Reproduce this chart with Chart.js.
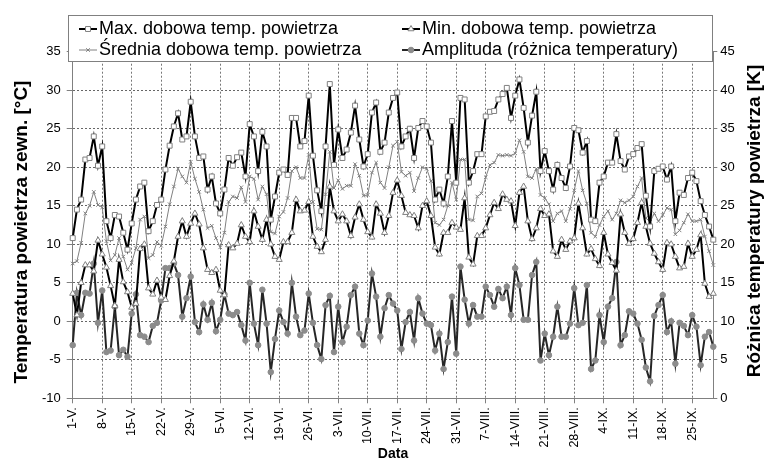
<!DOCTYPE html>
<html lang="pl">
<head>
<meta charset="UTF-8">
<title>Temperatura powietrza</title>
<script src="https://cdn.jsdelivr.net/npm/chart.js"></script>
<style>
  html, body { margin: 0; padding: 0; background: #fff; }
  #wrap { width: 766px; height: 461px; }
</style>
</head>
<body>
<div id="wrap"><canvas id="chart" width="766" height="461"></canvas></div>
<script>
// categories: every day from 1 May to 30 Sep
const monthNames = ['V', 'VI', 'VII', 'VIII', 'IX'];
const monthDays = [31, 30, 31, 31, 30];
const categories = [];
monthNames.forEach((m, i) => {
    for (let d = 1; d <= monthDays[i]; d++) categories.push(d + '-' + m + '.');
});

const tickLabels = ['1-V.', '8-V.', '15-V.', '22-V.', '29-V.', '5-VI.', '12-VI.', '19-VI.', '26-VI.',
    '3-VII.', '10-VII.', '17-VII.', '24-VII.', '31-VII.', '7-VIII.', '14-VIII.', '21-VIII.', '28-VIII.',
    '4-IX.', '11-IX.', '18-IX.', '25-IX.'];

const maxTemp = [
    10.8, 14.5, 15.8, 21.0, 21.2, 24.0, 20.2, 22.7, 13.0, 10.8,
    13.8, 13.6, 11.5, 9.3, 12.7, 15.8, 17.5, 18.0, 11.7, 13.0,
    15.1, 15.8, 19.7, 22.8, 25.3, 27.0, 23.6, 24.0, 28.5, 24.0,
    21.2, 21.4, 17.1, 18.8, 15.3, 14.0, 17.1, 21.2, 20.2, 21.3,
    21.9, 18.8, 25.6, 24.0, 19.5, 24.6, 22.7, 13.2, 16.2, 19.3,
    19.7, 19.0, 26.4, 26.4, 22.7, 23.4, 29.3, 21.5, 17.0, 14.3,
    22.7, 30.8, 20.3, 24.9, 21.2, 22.3, 24.5, 28.0, 23.6, 20.1,
    21.7, 27.1, 28.4, 22.0, 23.2, 27.1, 29.0, 29.7, 22.7, 24.0,
    25.0, 21.2, 25.1, 26.0, 25.3, 23.2, 15.8, 17.1, 15.3, 18.8,
    26.0, 18.0, 29.0, 28.8, 18.0, 19.5, 21.7, 21.7, 26.6, 27.2,
    27.3, 28.8, 29.5, 30.3, 26.4, 29.3, 31.4, 27.7, 23.2, 26.7,
    29.8, 19.5, 22.1, 19.5, 17.1, 20.3, 18.6, 17.3, 20.1, 25.1,
    24.8, 21.9, 23.4, 13.2, 13.0, 18.0, 18.8, 20.6, 20.6, 24.3,
    20.8, 19.7, 21.4, 21.7, 22.5, 23.0, 16.3, 12.3, 19.5, 19.8,
    20.1, 18.4, 20.1, 13.0, 16.7, 16.4, 18.6, 19.3, 18.2, 15.6,
    13.8, 12.3, 10.6
];

const minTemp = [
    3.6, 0.8, 5.0, 7.3, 7.3, 6.5, 10.5, 8.7, 7.0, 4.6,
    2.0, 8.0, 5.1, 3.8, 1.8, 2.3, 9.4, 10.0, 4.3, 3.5,
    5.3, 3.1, 2.8, 5.9, 7.8, 11.0, 13.0, 11.0, 12.7, 14.0,
    12.6, 9.5, 6.7, 6.3, 6.7, 4.0, 3.4, 9.9, 9.5, 10.1,
    12.5, 11.0, 10.3, 14.3, 12.3, 10.6, 13.2, 10.0, 8.4, 8.0,
    10.3, 10.3, 11.5, 15.8, 14.3, 14.4, 15.5, 11.0, 9.7, 9.0,
    10.6, 17.5, 14.3, 13.0, 13.9, 13.0, 11.1, 13.5, 15.2, 13.2,
    11.6, 10.9, 15.2, 14.0, 11.5, 13.7, 16.7, 18.3, 16.3, 14.1,
    13.8, 13.7, 12.1, 15.0, 15.6, 13.7, 9.6, 8.7, 11.5, 11.5,
    12.8, 12.2, 11.9, 16.0, 8.3, 7.4, 11.1, 11.1, 12.1, 13.8,
    15.4, 14.6, 16.5, 15.8, 15.6, 12.4, 16.7, 17.5, 13.0, 10.7,
    12.1, 14.6, 13.7, 13.9, 9.1, 8.4, 10.6, 9.3, 10.4, 10.8,
    15.3, 12.1, 8.7, 9.4, 8.1, 7.2, 11.5, 8.7, 7.6, 6.6,
    13.9, 11.5, 10.1, 10.7, 12.8, 15.4, 12.3, 10.1, 8.8, 7.7,
    6.7, 10.2, 10.0, 8.4, 6.9, 7.1, 10.1, 8.4, 9.3, 11.2,
    4.9, 3.2, 3.6
];

const meanTemp = [
    7.5, 7.8, 10.2, 14.0, 15.0, 16.8, 15.1, 14.8, 10.4, 7.9,
    8.6, 10.8, 8.4, 6.7, 7.6, 9.5, 13.2, 13.6, 8.2, 8.6,
    10.3, 9.8, 12.3, 15.2, 17.5, 19.8, 18.8, 18.0, 20.7, 18.5,
    16.8, 14.5, 12.1, 12.4, 10.8, 9.6, 11.5, 15.5, 16.2, 16.0,
    17.4, 15.5, 18.8, 18.5, 15.8, 17.5, 16.5, 11.6, 11.4, 13.6,
    14.2, 16.0, 19.5, 20.0, 18.6, 18.6, 21.6, 15.5, 12.0, 11.9,
    16.5, 22.0, 17.3, 18.3, 17.2, 17.6, 17.6, 20.4, 18.9, 16.3,
    16.4, 19.3, 20.6, 18.0, 17.3, 20.0, 22.8, 23.3, 19.4, 18.9,
    19.3, 16.9, 18.6, 20.0, 19.8, 18.2, 12.8, 12.5, 13.2, 15.0,
    18.0, 15.8, 21.0, 21.0, 13.2, 13.1, 16.2, 16.6, 18.7, 20.3,
    20.6, 21.6, 21.5, 21.6, 21.5, 21.8, 23.5, 22.0, 18.8, 18.6,
    19.8, 16.4, 16.0, 15.2, 13.0, 14.0, 14.3, 13.0, 14.6, 17.0,
    19.5, 17.0, 15.3, 11.5, 11.0, 12.5, 13.6, 14.3, 13.2, 14.0,
    15.7, 15.4, 15.7, 16.2, 17.5, 18.6, 13.4, 12.9, 14.0, 13.0,
    13.8, 14.7, 14.5, 11.3, 11.8, 12.8, 13.9, 13.0, 13.0, 13.2,
    11.0, 9.1, 7.3
];

// amplitude in K, right axis
const amplitude = [
    6.9, 13.7, 10.8, 13.7, 13.6, 17.5, 9.8, 14.0, 6.0, 6.2,
    11.9, 5.6, 6.3, 5.4, 11.0, 13.5, 8.2, 8.0, 7.3, 9.4,
    9.8, 12.7, 16.9, 16.9, 17.5, 16.0, 10.6, 13.0, 15.8, 9.9,
    8.6, 12.2, 10.2, 12.4, 8.7, 10.2, 13.5, 11.0, 10.8, 11.2,
    9.5, 7.5, 15.0, 9.7, 6.9, 14.1, 9.7, 3.4, 7.7, 11.4,
    9.9, 8.4, 15.0, 10.6, 8.2, 8.8, 13.6, 9.8, 6.9, 5.1,
    12.1, 13.3, 6.0, 11.9, 7.3, 9.3, 13.4, 14.5, 8.4, 6.9,
    10.1, 16.2, 13.2, 8.0, 11.7, 13.4, 12.3, 11.4, 6.4, 9.9,
    11.2, 7.5, 13.0, 11.0, 9.7, 9.5, 6.2, 8.4, 3.8, 7.3,
    13.2, 5.8, 17.1, 12.8, 9.7, 12.1, 10.6, 10.6, 14.5, 13.4,
    11.9, 14.2, 13.0, 14.5, 10.8, 16.9, 14.7, 10.2, 10.2, 16.0,
    17.7, 4.9, 8.4, 5.6, 8.0, 11.9, 8.0, 8.0, 9.7, 14.3,
    9.5, 9.8, 14.7, 3.8, 4.9, 10.8, 7.3, 11.9, 13.0, 17.7,
    6.9, 8.2, 11.3, 11.0, 9.7, 7.6, 4.0, 2.2, 10.7, 12.1,
    13.4, 8.6, 10.0, 4.5, 9.8, 9.4, 8.2, 10.8, 9.3, 4.3,
    8.0, 8.6, 6.7
];

const FONT = '"Liberation Sans", Arial, sans-serif';

// legend box, axis titles
const frame = {
    id: 'frame',
    afterDraw(chart) {
        const ctx = chart.ctx;
        const ds = chart.data.datasets;
        ctx.save();
        ctx.fillStyle = '#fff';
        ctx.fillRect(68.5, 15.5, 644, 46);
        ctx.strokeStyle = '#808080';
        ctx.lineWidth = 1;
        ctx.strokeRect(68.5, 15.5, 644, 46);

        const items = [
            { i: 0, x: 79, y: 29 },
            { i: 1, x: 402, y: 29 },
            { i: 2, x: 79, y: 50 },
            { i: 3, x: 402, y: 50 }
        ];
        items.forEach(it => {
            const d = ds[it.i];
            ctx.strokeStyle = d.borderColor;
            ctx.lineWidth = d.borderWidth;
            ctx.beginPath();
            ctx.moveTo(it.x, it.y);
            ctx.lineTo(it.x + 18, it.y);
            ctx.stroke();
            ctx.fillStyle = d.pointBackgroundColor;
            ctx.strokeStyle = d.pointBorderColor;
            ctx.lineWidth = d.pointBorderWidth;
            Chart.helpers.drawPoint(ctx, {
                pointStyle: d.pointStyle, radius: d.pointRadius,
                borderWidth: d.pointBorderWidth, rotation: 0
            }, it.x + 9, it.y);
            ctx.fillStyle = '#000';
            ctx.font = '18px ' + FONT;
            ctx.textAlign = 'left';
            ctx.textBaseline = 'middle';
            ctx.fillText(d.label, it.x + 20, it.y);
        });

        ctx.fillStyle = '#000';
        ctx.textAlign = 'center';
        ctx.textBaseline = 'middle';
        ctx.font = 'bold 19px ' + FONT;
        ctx.save();
        ctx.translate(22, 232);
        ctx.rotate(-Math.PI / 2);
        ctx.fillText('Temperatura powietrza zewn. [°C]', 0, 0);
        ctx.restore();
        ctx.save();
        ctx.translate(755, 221);
        ctx.rotate(-Math.PI / 2);
        ctx.fillText('Różnica temperatury powietrza [K]', 0, 0);
        ctx.restore();
        ctx.font = 'bold 14px ' + FONT;
        ctx.fillText('Data', 393, 454);
        ctx.restore();
    }
};

new Chart(document.getElementById('chart'), {
    type: 'line',
    data: {
        labels: categories,
        datasets: [
            {
                label: 'Max. dobowa temp. powietrza',
                data: maxTemp,
                yAxisID: 'y',
                borderColor: '#000',
                borderWidth: 2,
                pointStyle: 'rect',
                pointRadius: 3.5,
                pointBackgroundColor: '#fff',
                pointBorderColor: '#808080',
                pointBorderWidth: 1
            },
            {
                label: 'Min. dobowa temp. powietrza',
                data: minTemp,
                yAxisID: 'y',
                borderColor: '#000',
                borderWidth: 2,
                pointStyle: 'triangle',
                pointRadius: 3.5,
                pointBackgroundColor: '#fff',
                pointBorderColor: '#808080',
                pointBorderWidth: 1
            },
            {
                label: 'Średnia dobowa temp. powietrza',
                data: meanTemp,
                yAxisID: 'y',
                borderColor: '#808080',
                borderWidth: 1,
                pointStyle: 'crossRot',
                pointRadius: 2.5,
                pointBackgroundColor: '#808080',
                pointBorderColor: '#808080',
                pointBorderWidth: 1
            },
            {
                label: 'Amplituda (różnica temperatury)',
                data: amplitude,
                yAxisID: 'y2',
                borderColor: '#262626',
                borderWidth: 2,
                pointStyle: 'circle',
                pointRadius: 2.8,
                pointBackgroundColor: '#8c8c8c',
                pointBorderColor: '#8c8c8c',
                pointBorderWidth: 1
            }
        ]
    },
    options: {
        responsive: false,
        animation: false,
        layout: { padding: { top: 51.7, left: 0, right: 0, bottom: 0 } },
        elements: { line: { tension: 0 } },
        plugins: { legend: { display: false }, tooltip: { enabled: false } },
        scales: {
            x: {
                type: 'category',
                offset: false,
                afterBuildTicks: s => { s.ticks = s.ticks.filter(t => t.value % 7 === 0); },
                afterFit: s => { s.height = 62.7; },
                ticks: {
                    autoSkip: false,
                    minRotation: 90,
                    maxRotation: 90,
                    padding: 4,
                    color: '#000',
                    font: { family: FONT, size: 12.5 },
                    callback: (v, i) => tickLabels[i]
                },
                grid: { color: '#777', tickLength: 5, tickColor: '#808080' },
                border: { color: '#808080', dash: [2, 2] }
            },
            y: {
                position: 'left',
                min: -10,
                max: 35,
                afterFit: s => { s.width = 72.7; },
                ticks: { stepSize: 5, padding: 6, color: '#000', font: { family: FONT, size: 13 } },
                grid: { color: '#666', tickLength: 6, tickColor: '#808080' },
                border: { color: '#808080', dash: [2, 2] }
            },
            y2: {
                position: 'right',
                min: 0,
                max: 45,
                afterFit: s => { s.width = 52.7; },
                ticks: { stepSize: 5, padding: 3, color: '#000', font: { family: FONT, size: 13 } },
                grid: { drawOnChartArea: false, color: '#808080', tickLength: 4 },
                border: { color: '#808080' }
            }
        }
    },
    plugins: [frame]
});
</script>
</body>
</html>
